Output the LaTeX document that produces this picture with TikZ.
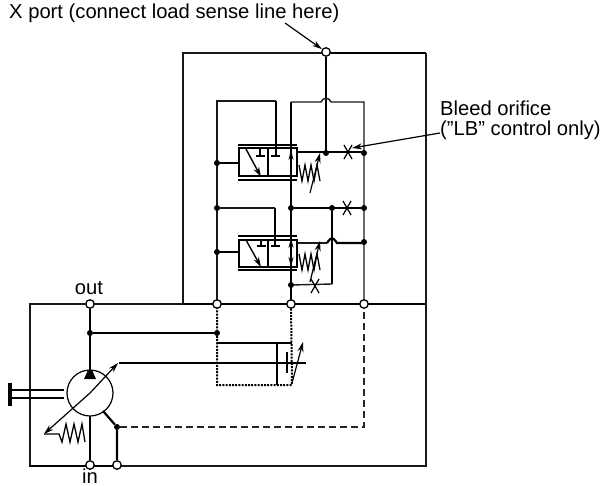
\documentclass[tikz,border=0pt]{standalone}
\usepackage{fontspec}
\setmainfont{Liberation Sans}
\usetikzlibrary{arrows.meta}
\tikzset{
  thick line/.style={line width=2.2pt,black},
  med line/.style={line width=1.4pt,black},
  thin line/.style={line width=1.4pt,black!90},
  port/.style={circle,draw=black,line width=1.3pt,fill=white,inner sep=0pt,minimum size=8.5pt},
  junction/.style={circle,fill=black,inner sep=0pt,minimum size=6pt},
  label text/.style={font=\fontsize{20.2}{24}\selectfont,inner sep=0pt,text=black},
  head/.style={-{Stealth[length=10pt,width=6pt]}},
  dotline/.style={line width=2pt,dash pattern=on 2pt off 1.2pt},
  dashline/.style={line width=1.3pt,dash pattern=on 7pt off 4pt,black!85},
}
\newcommand{\orif}[2]{\draw[line width=1.2pt] (#1-4,#2-7) -- (#1+4,#2+7) (#1+4,#2-7) -- (#1-4,#2+7);}
\newcommand{\zigs}[2]{\draw[line width=1.3pt] (#1,#2) -- ++(3,16) -- ++(3,-16) -- ++(3,16) -- ++(3,-16) -- ++(3,16) -- ++(3,-16) -- ++(3,16);}
\begin{document}
\begin{tikzpicture}[x=1pt,y=-1pt]
\useasboundingbox (0,0) rectangle (601,486);
% housings
\coordinate (xpc) at (326,52);
\coordinate (outc) at (90,304);
\coordinate (inc) at (90,465);
\coordinate (cpc) at (117,465);
\draw[thin line] (xpc) -- (326,53) -- (183,53) -- (183,304);
\draw[thick line] (326,53) -- (426,53);
\draw[thin line] (426,53) -- (426,304);
\draw[thin line] (outc) -- (30,304) -- (30,466) -- (90,466);
\draw[thick line] (30,466) -- (117,466);
\draw[thick line] (183,304) -- (426,304);
\draw[thin line] (outc) -- (183,304);
\draw[thin line] (117,466) -- (426,466) -- (426,304);
\node[port] (xp) at (xpc) {};
\node[port] (outp) at (outc) {};
\node[port] (inp) at (inc) {};
\node[port] (cp) at (cpc) {};
\coordinate (p1c) at (217,304);
\coordinate (p2c) at (291,304);
\coordinate (p3c) at (364,304);
% upper network
\draw[thick line] (xp) -- (326,153);
\draw[thin line] (p1c) -- (217,101) -- (276,101);
\draw[thick line] (276,101) -- (276,156);
\draw[thick line] (p2c) -- (291,102);
\draw[thin line] (291,102) -- (321,102) .. controls (323,97) and (329,97) .. (331,102) -- (364,102) -- (p3c);
% valve 1
\draw[thick line] (239,148) rectangle (297,176);
\draw[thick line] (268,148) -- (268,176);
\draw[thick line] (238,145) -- (297,145) (238,180) -- (297,180);
\node[junction] (d1) at (217,163) {};
\draw[thick line] (d1) -- (239,163);
\draw[thick line] (256,156) -- (265,156) (260,148) -- (260,156);
\draw[thick line] (271,156) -- (280,156);
\draw[med line,-{Stealth[length=10pt,width=6pt]}] (246,149) -- (261,177);
\draw[med line,-{Stealth[length=10pt,width=5pt]}] (291,165) -- (291,150);
\draw[thick line] (297,152) -- (364,152);
\orif{348}{152}
\node[junction] (d2) at (326,153) {};
\node[junction] (d3) at (364,153) {};
\zigs{299}{165}
\draw[line width=1.2pt,head] (310,193) -- (320,153);
% valve 2
\draw[thick line] (239,240) rectangle (297,267);
\draw[thick line] (268,240) -- (268,267);
\draw[thick line] (238,236) -- (297,236) (238,270) -- (297,270);
\node[junction] (d4) at (217,252) {};
\draw[thick line] (d4) -- (239,252);
\node[junction] (d5) at (217,208) {};
\draw[thin line] (d5) -- (275,208);
\draw[thick line] (275,208) -- (275,246);
\draw[thick line] (257,246) -- (266,246) (261,240) -- (261,246);
\draw[thick line] (271,246) -- (280,246);
\draw[med line,-{Stealth[length=10pt,width=6pt]}] (246,240) -- (261,267);
\draw[med line,-{Stealth[length=10pt,width=5pt]}] (291,253) -- (291,238);
\draw[med line,-{Stealth[length=10pt,width=5pt]}] (291,252) -- (291,267);
\node[junction] (d6) at (291,208) {};
\node[junction] (d7) at (332,208) {};
\node[junction] (d8) at (364,208) {};
\draw[thick line] (d6) -- (d8);
\orif{347}{208}
\draw[thick line] (d7) -- (332,284);
\node[junction] (d9) at (291,285) {};
\draw[thin line] (d9) -- (332,284);
\orif{315}{286}
\draw[thin line] (297,243) -- (327,243);
\draw[thick line] (327,243) .. controls (329,240) and (331,238) .. (332,238) .. controls (333,238) and (335,240) .. (337,243) -- (364,243);
\node[junction] (d10) at (364,242) {};
\zigs{299}{254}
\draw[line width=1.2pt,head] (310,282) -- (320,241);
% lower
\node[junction] (d11) at (217,333) {};
\node[junction] (d13) at (90,333) {};
\draw[thick line] (d13) -- (d11);
\draw[thick line] (outp) -- (90,372);
\fill (84,379) -- (96,379) -- (92,370) -- (88,370) -- cycle;
\draw[dotline] (p1c) -- (217,385) -- (292,385) -- (p2c);
\draw[thick line] (217,343) -- (292,343);
\draw[thick line] (277,343) -- (277,385);
\draw[thick line] (287,352) -- (287,373);
\draw[thick line] (119,363) -- (306,363);
\draw[line width=1.2pt,head] (292,383) -- (303,342);
\node[port] (p1) at (p1c) {};
\node[port] (p2) at (p2c) {};
\node[port] (p3) at (p3c) {};
% pump
\node[draw,circle,line width=1.2pt,minimum size=46pt,inner sep=0pt] (pump) at (90,393) {};
\draw[line width=1.2pt,head] (90,393) -- (118,363);
\draw[line width=1.2pt,head] (90,393) -- (44,434);
\draw[line width=1.3pt] (44,434) -- (59,434) -- (62,442) -- (66,424) -- (70,442) -- (74,424) -- (78,442) -- (82,424) -- (85,442);
\draw[thick line] (10,390) -- (64,390) (10,398) -- (64,398);
\draw[line width=3.5pt] (10,383) -- (10,406);
\draw[thick line] (90,416) -- (inp);
\node[junction] (d12) at (117,427) {};
\draw[thick line] (103,411) -- (d12) -- (cp);
\draw[dashline] (d12) -- (364,427) -- (p3);
% labels
\node[label text,anchor=west] (xlab) at (9,13) {X port (connect load sense line here)};
\coordinate (xtail) at (285,23);
\draw[line width=1.2pt,head] (xtail) -- (xp);
\node[label text,anchor=west] (b1) at (440,108) {Bleed orifice};
\node[label text,anchor=west] (b2) at (440,130) {("LB" control only)};
\coordinate (btail) at (440,133);
\draw[line width=1.2pt,head] (btail) -- (352,148);
\node[label text] (o) at (89,288) {out};
\node[label text,anchor=base] (i) at (90,483) {in};
\end{tikzpicture}
\end{document}
